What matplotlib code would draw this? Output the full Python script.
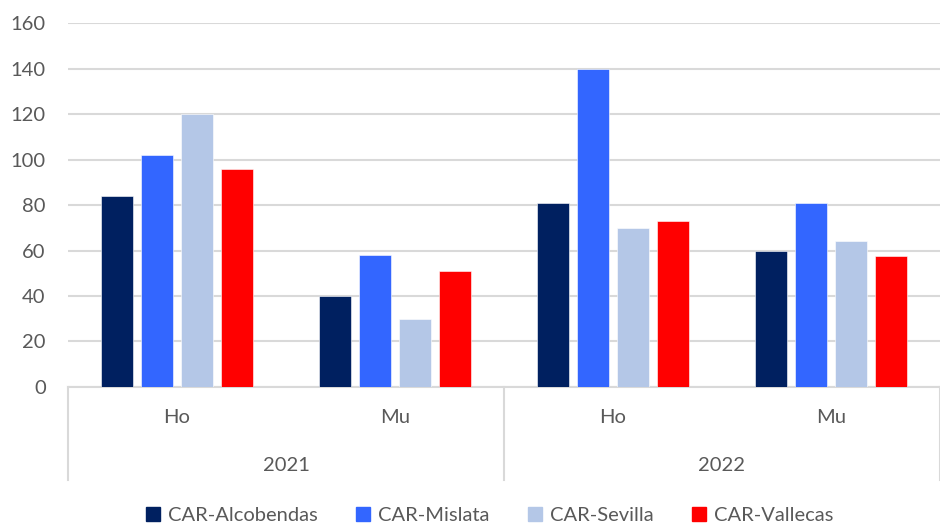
import matplotlib.pyplot as plt
import numpy as np
from matplotlib.patches import Patch
from matplotlib.transforms import blended_transform_factory

plt.rcParams['font.family'] = ['Lato', 'DejaVu Sans']

# data
years = ['2021', '2022']
sexes = ['Ho', 'Mu']
centros = ['CAR-Alcobendas', 'CAR-Mislata', 'CAR-Sevilla', 'CAR-Vallecas']
alcobendas = [84, 40, 81, 60]
mislata = [102, 58, 140, 81]
sevilla = [120, 30, 70, 64]
vallecas = [96, 51, 73, 57.5]
colores = ['#002060', '#3366ff', '#b4c7e7', '#ff0000']

series = [alcobendas, mislata, sevilla, vallecas]
txt = '#595959'
grid_c = '#d9d9d9'
fs = 14.5

fig = plt.figure(figsize=(9.4, 5.24), dpi=100)
ax = fig.add_axes([0.0723, 0.2615, 0.9277, 0.6945])

x = np.arange(len(alcobendas))
width = 0.147
step = 0.183
for i, (vals, col, name) in enumerate(zip(series, colores, centros)):
  offs = (i - 1.5) * step
  ax.bar(x + offs, vals, width, color=col, label=name, zorder=3,
         edgecolor='white', linewidth=0.4)

ax.set_xlim(-0.5, len(x) - 0.5)
ax.set_ylim(0, 160)
ax.set_yticks(np.arange(0, 161, 20))
ax.yaxis.grid(True, color=grid_c, lw=1.5, zorder=0)
ax.tick_params(axis='y', length=0, labelsize=fs, labelcolor=txt, pad=16)
ax.set_xticks([])
for s in ['left', 'right', 'top']:
  ax.spines[s].set_visible(False)
ax.spines['bottom'].set_color(grid_c)
ax.spines['bottom'].set_linewidth(1.5)

# multi level category axis
tr = blended_transform_factory(ax.transData, ax.transAxes)
for i, xi in enumerate(x):
  ax.text(xi, -0.085, sexes[i % 2], transform=tr, ha='center', va='center',
          fontsize=fs, color=txt)
for j, yr in enumerate(years):
  ax.text(2 * j + 0.5, -0.215, yr, transform=tr, ha='center', va='center',
          fontsize=fs, color=txt)
for b in [-0.5, 1.5, 3.5]:
  ax.plot([b, b], [0, -0.255], transform=tr, color=grid_c, lw=1.5,
          clip_on=False)

handles = [Patch(color=c, label=n) for c, n in zip(colores, centros)]
fig.legend(handles=handles, loc='lower center', ncol=4, frameon=False,
           fontsize=fs, labelcolor=txt, handlelength=0.7, handleheight=0.7,
           handletextpad=0.4, columnspacing=1.9, bbox_to_anchor=(0.521, -0.035))

fig.savefig('out.png', dpi=100)
